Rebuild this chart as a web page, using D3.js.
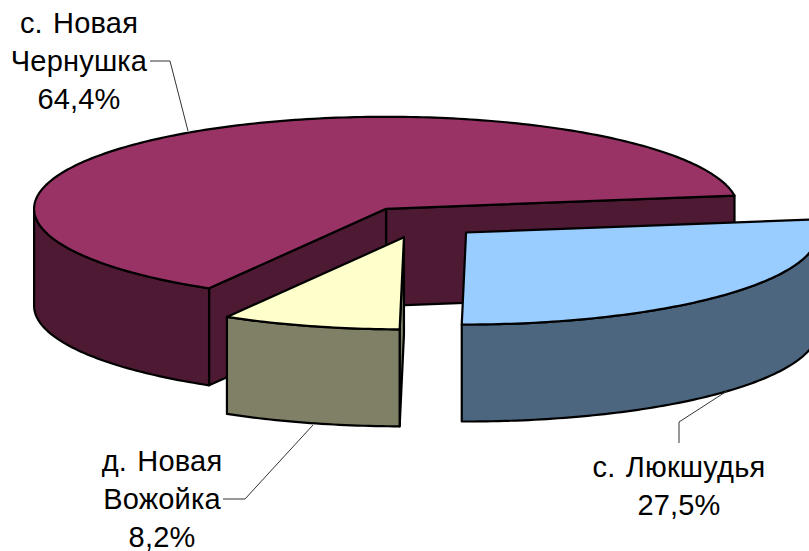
<!DOCTYPE html>
<html><head><meta charset="utf-8">
<script src="https://cdn.jsdelivr.net/npm/d3@7"></script>
<style>html,body{margin:0;padding:0;background:#fff}svg{display:block}
text{font-family:"Liberation Sans",Arial,sans-serif;font-size:29px;fill:#000;text-anchor:middle;letter-spacing:.2px;word-spacing:2px}</style>
</head><body><div id="c"></div>
<script>
const categories = ["с. Новая Чернушка", "д. Новая Вожойка", "с. Люкшудья"];
const values = [64.4, 8.2, 27.5];
const valueLabels = ["64,4%", "8,2%", "27,5%"];
const topColors = ["#993366", "#FFFFCC", "#99CCFF"];
const sideColors = ["#4D1933", "#808066", "#4D6680"];
const labelLines = [["с. Новая","Чернушка","64,4%"],["д. Новая","Вожойка","8,2%"],["с. Люкшудья","27,5%"]];

const W=809,H=551;
const svg=d3.select("#c").append("svg").attr("width",W).attr("height",H);
const rad=d=>d*Math.PI/180;
const rx=352, ry=92, depth=97, explode=61;
const cx=420.2, cy=222;
const start=rad(8.2);
const pie=d3.pie().sort(null).startAngle(start).endAngle(start+2*Math.PI);
const arcs=pie(values);

// ground-plane projection: angle counter-clockwise from +x, radius in [0,1]
const sx=d3.scaleLinear().domain([-1,1]).range([-rx,rx]);
const sy=d3.scaleLinear().domain([-1,1]).range([ry,-ry]);
const pt=(c,a,z=0)=>[c[0]+sx(Math.cos(a)),c[1]+sy(Math.sin(a))+z];
const line=d3.line();

function rim(c,a0,a1,z){const n=Math.max(2,Math.ceil(Math.abs(a1-a0)/rad(1)));
  return d3.range(n+1).map(i=>pt(c,a0+(a1-a0)*i/n,z));}

const style=(s,f)=>s.attr("fill",f).attr("stroke","#000").attr("stroke-width",2.2).attr("stroke-linejoin","round");

arcs.forEach((d,i)=>{
  const mid=(d.startAngle+d.endAngle)/2;
  const c=[cx+sx(Math.cos(mid))*explode/rx, cy+sy(Math.sin(mid))*explode/rx];
  const a0=d.startAngle,a1=d.endAngle;
  const g=svg.append("g");
  const wallFace=a=>{
    const p=pt(c,a);
    return [[c[0],c[1]],p,[p[0],p[1]+depth],[c[0],c[1]+depth]];
  };
  // cut faces, drawn only when turned to the viewer (far ones first)
  const faces=[[a0,a0-Math.PI/2],[a1,a1+Math.PI/2]]
    .filter(f=>Math.sin(f[1])<0)
    .sort((p,q)=>Math.sin(q[0])-Math.sin(p[0]));
  faces.forEach(f=>style(g.append("path").attr("d",line(wallFace(f[0]))+"Z"),sideColors[i]));
  // outer wall: the parts of the rim on the near half (sin<0)
  [[rad(180),rad(360)],[rad(540),rad(720)]].forEach(([l,h])=>{
    const s=Math.max(a0,l),e=Math.min(a1,h);
    if(e>s){
      const pts=rim(c,s,e,0).concat(rim(c,e,s,depth));
      style(g.append("path").attr("d",line(pts)+"Z"),sideColors[i]);
    }
  });
  // top
  style(g.append("path").attr("d",line([c,...rim(c,a0,a1,0)])+"Z"),topColors[i]);
});

// leader lines
const leaders=[[[150,61],[170,61],[188,131]],[[223,499],[245,499],[313,425]],[[679,443],[679,422],[727,391]]];
leaders.forEach(l=>svg.append("path").attr("d",line(l)).attr("fill","none").attr("stroke","#333").attr("stroke-width",1));

// labels
const labelPos=[[79,33],[162,471],[679,477]];
labelLines.forEach((ls,i)=>{
  const t=svg.append("text").attr("x",labelPos[i][0]).attr("y",labelPos[i][1]);
  ls.forEach((s,j)=>t.append("tspan").attr("x",labelPos[i][0]).attr("dy",j?37.8:0).text(s));
});
</script></body></html>
